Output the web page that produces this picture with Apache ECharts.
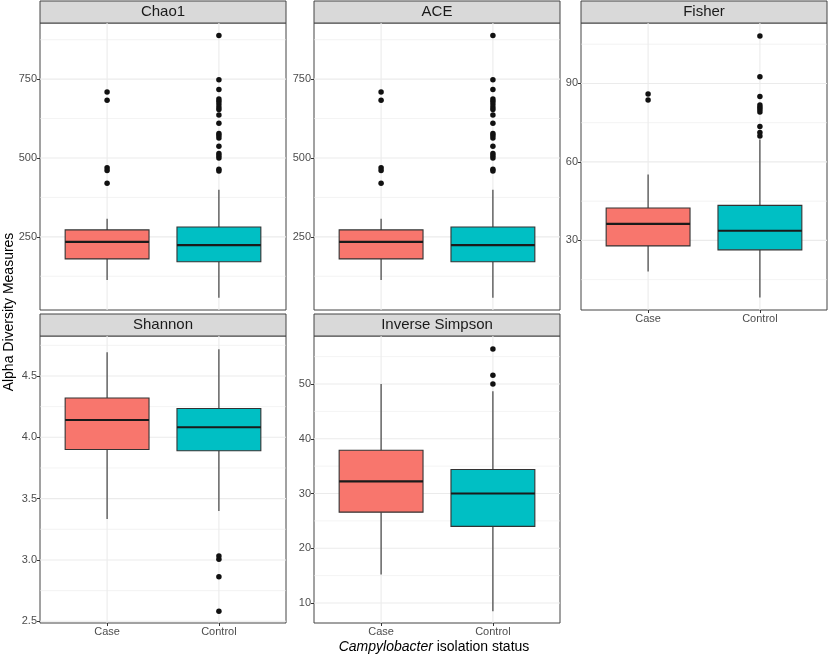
<!DOCTYPE html>
<html>
<head>
<meta charset="utf-8">
<title>Alpha diversity</title>
<script src="https://cdn.jsdelivr.net/npm/echarts@6/dist/echarts.min.js"></script>
<style>
  html, body { margin: 0; padding: 0; background: #fff; }
  #chart { width: 829px; height: 656px; }
</style>
</head>
<body>
<div id="chart"></div>
<script>
const groups = ["Case", "Control"];
const groupColors = ["#F8766D", "#00BFC4"];

// box stats per group: [lower whisker, Q1, median, Q3, upper whisker]
const chao1Box = [[113, 180, 234, 272, 307], [57, 171, 224, 281, 399]];
const chao1Out = [[709, 683, 469, 460, 420],
  [888, 748, 717, 687, 680, 671, 662, 654, 636, 610, 578, 571, 563, 537, 514, 507, 500, 464, 459]];
const chao1Ticks = [250, 500, 750];
const chao1Minor = [125, 375, 625, 875];
const chao1Range = [18, 928];

const aceBox = [[113, 180, 234, 272, 307], [57, 171, 224, 281, 399]];
const aceOut = [[709, 683, 469, 460, 420],
  [888, 748, 717, 687, 680, 671, 662, 654, 636, 610, 578, 571, 563, 537, 514, 507, 500, 464, 459]];
const aceTicks = [250, 500, 750];
const aceMinor = [125, 375, 625, 875];
const aceRange = [18, 928];

const fisherBox = [[18.1, 27.9, 36.3, 42.4, 55.2], [8.2, 26.4, 33.7, 43.4, 68.6]];
const fisherOut = [[86.0, 83.7],
  [108.1, 92.6, 85.0, 81.8, 80.9, 80.0, 79.1, 73.5, 71.2, 69.9]];
const fisherTicks = [30, 60, 90];
const fisherMinor = [15, 45, 75, 105];
const fisherRange = [3.4, 113.1];

const shannonBox = [[3.334, 3.90, 4.141, 4.321, 4.693], [3.399, 3.891, 4.082, 4.235, 4.718]];
const shannonOut = [[], [3.033, 3.006, 2.864, 2.582]];
const shannonTicks = [2.5, 3.0, 3.5, 4.0, 4.5];
const shannonMinor = [2.75, 3.25, 3.75, 4.25, 4.75];
const shannonRange = [2.486, 4.826];

const invSimpsonBox = [[15.2, 26.6, 32.2, 37.9, 50.0], [8.5, 24.0, 30.0, 34.4, 48.7]];
const invSimpsonOut = [[], [56.4, 51.6, 50.0]];
const invSimpsonTicks = [10, 20, 30, 40, 50];
const invSimpsonMinor = [15, 25, 35, 45, 55];
const invSimpsonRange = [6.35, 58.77];

// layout of the facets (pixels)
const panels = [
  { name: "Chao1", box: chao1Box, out: chao1Out, ticks: chao1Ticks, minor: chao1Minor, range: chao1Range, left: 40, top: 23, xLabels: false },
  { name: "ACE", box: aceBox, out: aceOut, ticks: aceTicks, minor: aceMinor, range: aceRange, left: 314, top: 23, xLabels: false },
  { name: "Fisher", box: fisherBox, out: fisherOut, ticks: fisherTicks, minor: fisherMinor, range: fisherRange, left: 581, top: 23, xLabels: true },
  { name: "Shannon", box: shannonBox, out: shannonOut, ticks: shannonTicks, minor: shannonMinor, range: shannonRange, left: 40, top: 336, xLabels: true },
  { name: "Inverse Simpson", box: invSimpsonBox, out: invSimpsonOut, ticks: invSimpsonTicks, minor: invSimpsonMinor, range: invSimpsonRange, left: 314, top: 336, xLabels: true }
];
const panelW = 246, panelH = 287, stripH = 22;
const font = "'Liberation Sans', Arial, Helvetica, sans-serif";

function renderGrid(params, api) {
  const cs = params.coordSys;
  const kind = api.value(2);
  const p = api.coord([api.value(0), api.value(1)]);
  let shape;
  if (kind === 2) {
    shape = { x1: p[0], y1: cs.y, x2: p[0], y2: cs.y + cs.height };
  } else {
    shape = { x1: cs.x, y1: p[1], x2: cs.x + cs.width, y2: p[1] };
  }
  return {
    type: "line",
    shape: shape,
    style: { stroke: "#ebebeb", lineWidth: kind === 0 ? 0.6 : 1.1 }
  };
}

function renderBox(params, api) {
  const x = api.value(0);
  const half = api.size([0.75, 0])[0] / 2;
  const lo = api.coord([x, api.value(1)]);
  const q1 = api.coord([x, api.value(2)]);
  const md = api.coord([x, api.value(3)]);
  const q3 = api.coord([x, api.value(4)]);
  const hi = api.coord([x, api.value(5)]);
  const ln = { stroke: "#333333", lineWidth: 1.1 };
  return {
    type: "group",
    children: [
      { type: "line", shape: { x1: lo[0], y1: lo[1], x2: q1[0], y2: q1[1] }, style: ln },
      { type: "line", shape: { x1: q3[0], y1: q3[1], x2: hi[0], y2: hi[1] }, style: ln },
      { type: "rect", shape: { x: q3[0] - half, y: q3[1], width: half * 2, height: q1[1] - q3[1] },
        style: { fill: groupColors[params.dataIndex], stroke: "#333333", lineWidth: 1.1 } },
      { type: "line", shape: { x1: md[0] - half, y1: md[1], x2: md[0] + half, y2: md[1] },
        style: { stroke: "#1a1a1a", lineWidth: 2.2 } }
    ]
  };
}

const grid = [], xAxis = [], yAxis = [], series = [], graphic = [];

panels.forEach((p, i) => {
  grid.push({
    left: p.left, top: p.top, width: panelW, height: panelH,
    show: true, borderColor: "#444", borderWidth: 1, backgroundColor: "transparent"
  });
  xAxis.push({
    gridIndex: i, type: "value", min: 0.4, max: 2.6,
    axisLine: { show: false },
    splitLine: { show: false },
    axisTick: { show: p.xLabels, customValues: [1, 2], length: 3, lineStyle: { color: "#333" } },
    axisLabel: {
      show: p.xLabels, customValues: [1, 2], margin: 3,
      color: "#4d4d4d", fontSize: 11, fontFamily: font,
      formatter: v => groups[Math.round(v) - 1]
    }
  });
  yAxis.push({
    gridIndex: i, type: "value", min: p.range[0], max: p.range[1],
    axisLine: { show: false },
    splitLine: { show: false },
    axisTick: { show: true, customValues: p.ticks, length: 3, lineStyle: { color: "#333" } },
    axisLabel: {
      customValues: p.ticks, margin: 3,
      color: "#4d4d4d", fontSize: 11, fontFamily: font,
      formatter: v => (p.name === "Shannon" ? v.toFixed(1) : String(v))
    }
  });

  // grid lines: minor (0), major (1), vertical at the groups (2)
  const gridData = [];
  p.minor.forEach(v => gridData.push([1.5, v, 0]));
  p.ticks.forEach(v => gridData.push([1.5, v, 1]));
  groups.forEach((g, k) => gridData.push([k + 1, p.range[0], 2]));
  series.push({
    type: "custom", xAxisIndex: i, yAxisIndex: i, z: 1, silent: true,
    renderItem: renderGrid, data: gridData, clip: false
  });

  series.push({
    type: "custom", name: p.name, xAxisIndex: i, yAxisIndex: i, z: 2,
    encode: { x: 0, y: [1, 2, 3, 4, 5] },
    renderItem: renderBox,
    data: p.box.map((b, k) => [k + 1].concat(b))
  });

  const outData = [];
  p.out.forEach((vals, k) => vals.forEach(v => outData.push([k + 1, v])));
  series.push({
    type: "scatter", xAxisIndex: i, yAxisIndex: i, z: 3,
    symbolSize: 5.5, itemStyle: { color: "#111", opacity: 1 },
    data: outData
  });

  graphic.push({
    type: "rect",
    shape: { x: p.left, y: p.top - stripH, width: panelW, height: stripH },
    style: { fill: "#d9d9d9", stroke: "#444", lineWidth: 1 }
  });
  graphic.push({
    type: "text", x: p.left + panelW / 2, y: p.top - stripH / 2,
    style: { text: p.name, fontSize: 15, fontFamily: font, fill: "#1a1a1a", align: "center", verticalAlign: "middle" }
  });
});

graphic.push({
  type: "text", x: 9, y: 312, rotation: Math.PI / 2,
  style: { text: "Alpha Diversity Measures", fontSize: 14, fontFamily: font, fill: "#000", align: "center", verticalAlign: "middle" }
});
graphic.push({
  type: "text", x: 434, y: 647,
  style: {
    text: "{i|Campylobacter} isolation status",
    fontSize: 14, fontFamily: font, fill: "#000", align: "center", verticalAlign: "middle",
    rich: { i: { fontStyle: "italic", fontSize: 14, fontFamily: font, fill: "#000" } }
  }
});

const chart = echarts.init(document.getElementById("chart"), null, { renderer: "canvas" });
chart.setOption({
  animation: false,
  backgroundColor: "#fff",
  grid, xAxis, yAxis, series, graphic
});
window.addEventListener("resize", () => chart.resize());
</script>
</body>
</html>
